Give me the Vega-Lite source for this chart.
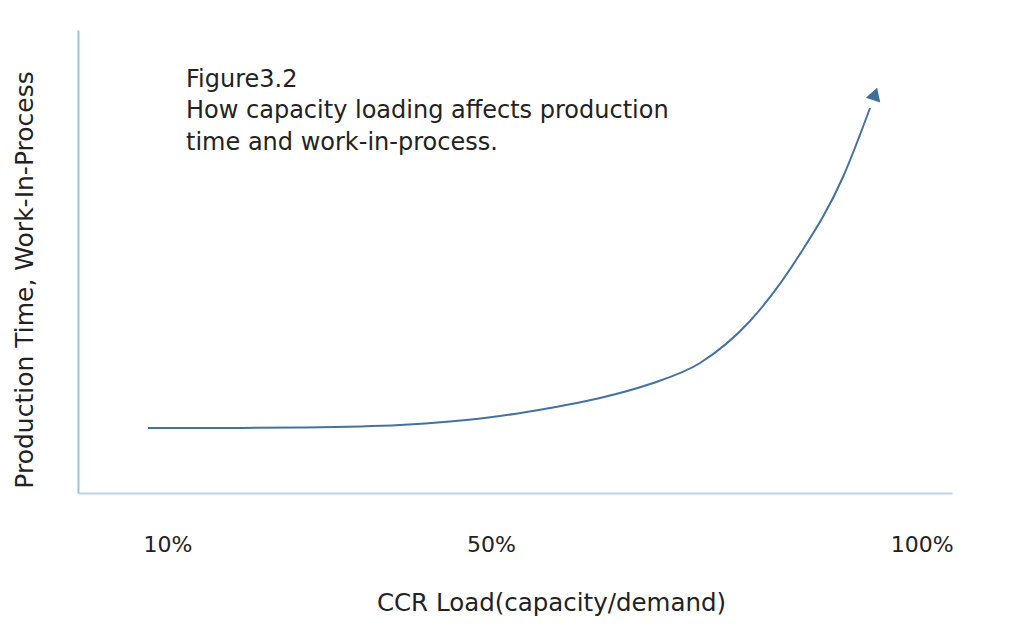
{
  "$schema": "https://vega.github.io/schema/vega-lite/v6.json",
  "width": 874,
  "height": 463,
  "autosize": {"type": "none"},
  "padding": {"left": 78, "top": 30, "right": 72, "bottom": 144},
  "background": "white",
  "config": {
    "view": {"stroke": null},
    "font": "DejaVu Sans"
  },
  "datasets": {
    "curve": [
      {"load": 8.01, "time": 14.04},
      {"load": 16.8, "time": 14.04},
      {"load": 25.4, "time": 14.15},
      {"load": 36.84, "time": 14.69},
      {"load": 42.56, "time": 15.44},
      {"load": 48.28, "time": 16.63},
      {"load": 54.0, "time": 18.36},
      {"load": 59.73, "time": 20.52},
      {"load": 65.45, "time": 23.54},
      {"load": 71.17, "time": 28.08},
      {"load": 76.89, "time": 37.15},
      {"load": 82.61, "time": 51.62},
      {"load": 87.53, "time": 68.25},
      {"load": 90.62, "time": 83.15}
    ],
    "arrow": [{"load": 91.2, "time": 86.2}],
    "ticks": [
      {"load": 10.3, "label": "10%"},
      {"load": 47.3, "label": "50%"},
      {"load": 96.6, "label": "100%"}
    ],
    "note": [{"load": 12.36, "time": 91.84, "label": "Figure3.2\nHow capacity loading affects production\ntime and work-in-process."}]
  },
  "layer": [
    {
      "data": {"name": "curve"},
      "mark": {"type": "line", "color": "#4472A0", "strokeWidth": 2, "interpolate": "monotone"},
      "encoding": {
        "x": {
          "field": "load", "type": "quantitative",
          "scale": {"domain": [0, 100], "nice": false, "zero": false},
          "axis": {
            "title": "CCR Load(capacity/demand)",
            "labels": false, "ticks": false, "grid": false,
            "domainColor": "#BFD3E6", "domainWidth": 2,
            "titleFont": "DejaVu Sans", "titleFontSize": 24.5, "titleFontWeight": "normal",
            "titleColor": "#222222", "titleX": 473, "titleY": 117, "titleBaseline": "alphabetic"
          }
        },
        "y": {
          "field": "time", "type": "quantitative",
          "scale": {"domain": [0, 100], "nice": false, "zero": false},
          "axis": {
            "title": "Production Time, Work-In-Process",
            "labels": false, "ticks": false, "grid": false,
            "domainColor": "#9DC3E6", "domainWidth": 2,
            "titleFont": "DejaVu Sans", "titleFontSize": 25, "titleFontWeight": "normal",
            "titleColor": "#222222", "titleX": -46, "titleY": 249.5, "titleBaseline": "alphabetic"
          }
        }
      }
    },
    {
      "data": {"name": "arrow"},
      "mark": {"type": "point", "shape": "triangle-up", "filled": true, "color": "#3F6E9A", "size": 230, "angle": 18, "opacity": 1},
      "encoding": {
        "x": {"field": "load", "type": "quantitative"},
        "y": {"field": "time", "type": "quantitative"}
      }
    },
    {
      "data": {"name": "ticks"},
      "mark": {"type": "text", "font": "DejaVu Sans", "fontSize": 22, "color": "#222222", "align": "center", "baseline": "alphabetic"},
      "encoding": {
        "x": {"field": "load", "type": "quantitative"},
        "y": {"datum": -12.7},
        "text": {"field": "label"}
      }
    },
    {
      "data": {"name": "note"},
      "mark": {"type": "text", "font": "DejaVu Sans", "fontSize": 24, "color": "#222222", "align": "left", "baseline": "top", "lineBreak": "\n", "lineHeight": 31.5},
      "encoding": {
        "x": {"field": "load", "type": "quantitative"},
        "y": {"field": "time", "type": "quantitative"},
        "text": {"field": "label"}
      }
    }
  ]
}
